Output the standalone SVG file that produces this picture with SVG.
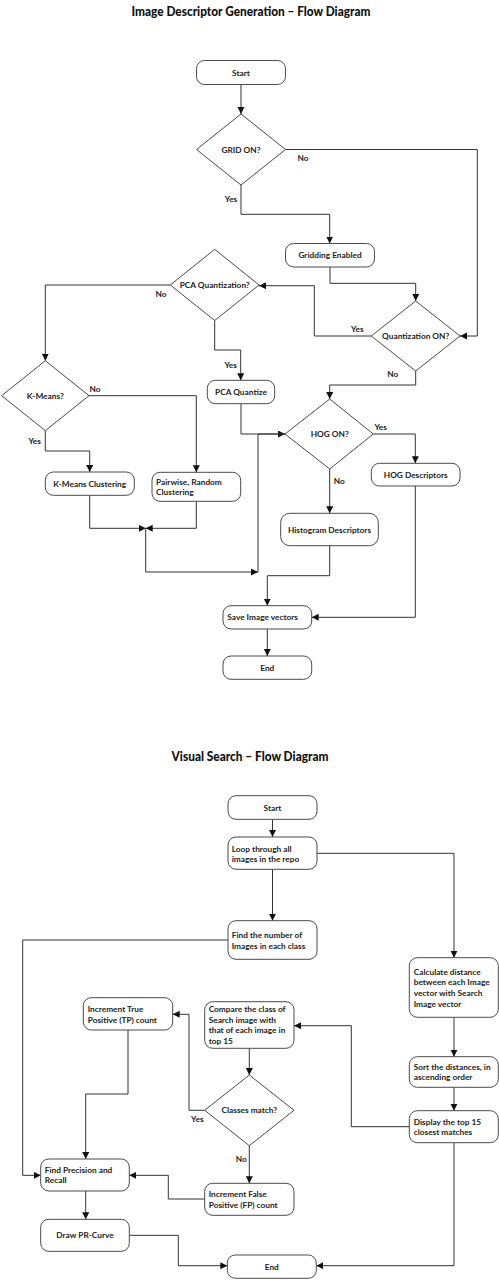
<svg xmlns="http://www.w3.org/2000/svg" width="499" height="1280" viewBox="0 0 499 1280">
<defs>
<marker id="ah" markerWidth="8" markerHeight="8" refX="7" refY="3.5" orient="auto" markerUnits="userSpaceOnUse"><path d="M0,0 L7,3.5 L0,7 z" fill="#111"/></marker>
<style>
.bx{fill:#fff;stroke:#4a4a4a;stroke-width:1}
.c{fill:none;stroke:#333;stroke-width:1;stroke-linejoin:round}
.a{marker-end:url(#ah)}
.t{font-family:Lato,"Liberation Sans",sans-serif;font-weight:bold;font-size:8.3px;fill:#222}
.m{text-anchor:middle}
.ti{font-family:Lato,"Liberation Sans",sans-serif;font-weight:900;font-size:12.5px;fill:#111;text-anchor:middle}
</style>
</defs>
<rect width="499" height="1280" fill="#fff"/>
<text class="ti" x="251" y="16" textLength="239" lengthAdjust="spacingAndGlyphs">Image Descriptor Generation – Flow Diagram</text>
<text class="ti" x="250" y="761" textLength="157" lengthAdjust="spacingAndGlyphs">Visual Search – Flow Diagram</text>

<g id="connectors">
<path class="c a" d="M241,84.5 V114"/>
<path class="c a" d="M285.5,149.5 H477.3 V336 H460"/>
<path class="c a" d="M241,185 V214.3 H329.7 V243.5"/>
<path class="c a" d="M330,267 V283.3 H415.7 V301"/>
<path class="c a" d="M371.3,336 H314.3 V285.7 H259"/>
<path class="c a" d="M170.3,285 H45.3 V360.7"/>
<path class="c a" d="M214.7,320.5 V350 H240.7 V380.3"/>
<path class="c a" d="M89,395.7 H196.3 V472.3"/>
<path class="c a" d="M45.3,430.7 V451 H89.7 V472"/>
<path class="c a" d="M415.7,371 V385 H329.7 V399"/>
<path class="c a" d="M241,403.7 V434 H285"/>
<path class="c a" d="M373.3,434 H415.3 V463.3"/>
<path class="c a" d="M329.7,469 V513.3"/>
<path class="c a" d="M89.7,495.3 V528.3 H145.7"/>
<path class="c a" d="M196.3,501.3 V528.3 H145.7"/>
<path class="c a" d="M145.7,528.3 V572 H258"/>
<path class="c" d="M258,572 V434 H285"/>
<path class="c a" d="M329.7,545.7 V575.7 H267.3 V605.7"/>
<path class="c a" d="M415.3,486 V617.3 H311.7"/>
<path class="c a" d="M267.3,629 V656"/>

<path class="c a" d="M272.5,819.3 V837"/>
<path class="c a" d="M317,853.3 H454 V957.7"/>
<path class="c a" d="M272.5,869.3 V920.7"/>
<path class="c a" d="M228,940 H22.7 V1175.3 H40.7"/>
<path class="c a" d="M454,1017.3 V1056.7"/>
<path class="c a" d="M454,1087.3 V1110.7"/>
<path class="c a" d="M409.3,1126.7 H351.3 V1025.7 H294"/>
<path class="c a" d="M454,1142.7 V1265.7 H316.3"/>
<path class="c a" d="M249.3,1048.3 V1075"/>
<path class="c a" d="M204.7,1110.3 H189 V1014.3 H172.7"/>
<path class="c a" d="M128,1030 V1094 H85.7 V1159"/>
<path class="c a" d="M249.3,1145.7 V1183.3"/>
<path class="c a" d="M204.7,1199 H168.3 V1175.3 H129.3"/>
<path class="c a" d="M85.7,1191 V1219.3"/>
<path class="c a" d="M129.3,1235.3 H178.3 V1265.7 H227.3"/>
</g>

<g id="labels">
<text class="t m" x="303" y="161">No</text>
<text class="t m" x="231" y="202">Yes</text>
<text class="t m" x="357.3" y="332">Yes</text>
<text class="t m" x="161" y="297">No</text>
<text class="t m" x="230.7" y="367.5">Yes</text>
<text class="t m" x="95" y="392">No</text>
<text class="t m" x="392.7" y="377">No</text>
<text class="t m" x="380.7" y="430">Yes</text>
<text class="t m" x="339.3" y="484">No</text>
<text class="t m" x="34.7" y="443.5">Yes</text>
<text class="t m" x="197.3" y="1122">Yes</text>
<text class="t m" x="241.3" y="1162.3">No</text>
</g>

<g id="start1"><rect class="bx" x="196.5" y="60.5" width="89" height="24" rx="8"/><text class="t m" x="241" y="75.5">Start</text></g>
<g id="grid_on"><polygon class="bx" points="241,114 285.5,149.5 241,185 196.5,149.5"/><text class="t m" x="241" y="152.5">GRID ON?</text></g>
<g id="gridding"><rect class="bx" x="285.5" y="243.5" width="89" height="23.5" rx="8"/><text class="t m" x="330" y="258">Gridding Enabled</text></g>
<g id="quant_on"><polygon class="bx" points="415.7,301 460,336 415.7,371 371.3,336"/><text class="t m" x="415.7" y="339">Quantization ON?</text></g>
<g id="pca_q"><polygon class="bx" points="214.7,249.3 259,285 214.7,320.5 170.3,285"/><text class="t m" x="214.7" y="288">PCA Quantization?</text></g>
<g id="kmeans_q"><polygon class="bx" points="45.3,360.7 89,395.7 45.3,430.7 1.7,395.7"/><text class="t m" x="45.3" y="398.5">K-Means?</text></g>
<g id="pca_quantize"><rect class="bx" x="207.3" y="380.3" width="67.4" height="23.4" rx="8"/><text class="t m" x="241" y="395">PCA Quantize</text></g>
<g id="hog_on"><polygon class="bx" points="329.7,399 373.3,434 329.7,469 285,434"/><text class="t m" x="329.7" y="436.5">HOG ON?</text></g>
<g id="hog_desc"><rect class="bx" x="371.3" y="463.3" width="88.7" height="22.7" rx="8"/><text class="t m" x="415.7" y="478">HOG Descriptors</text></g>
<g id="hist_desc"><rect class="bx" x="280.7" y="513.3" width="97.6" height="32.4" rx="9"/><text class="t m" x="329.5" y="532.5">Histogram Descriptors</text></g>
<g id="kmeans_cl"><rect class="bx" x="45.3" y="472" width="89" height="23.3" rx="8"/><text class="t m" x="89.7" y="486.5">K-Means Clustering</text></g>
<g id="pairwise"><rect class="bx" x="152" y="472.3" width="88.7" height="29" rx="8"/><text class="t" x="156" y="484.5">Pairwise, Random</text><text class="t" x="156" y="494.5">Clustering</text></g>
<g id="save"><rect class="bx" x="223" y="605.7" width="88.7" height="23.3" rx="8"/><text class="t" x="227.3" y="620">Save Image vectors</text></g>
<g id="end1"><rect class="bx" x="223" y="656" width="88.7" height="23.3" rx="8"/><text class="t m" x="267.3" y="670.5">End</text></g>

<g id="start2"><rect class="bx" x="228" y="795.7" width="89" height="23.6" rx="8"/><text class="t m" x="272.5" y="811">Start</text></g>
<g id="loop"><rect class="bx" x="228" y="837" width="89" height="32.3" rx="8"/><text class="t" x="231.7" y="851.5">Loop through all</text><text class="t" x="231.7" y="861.5">images in the repo</text></g>
<g id="find_num"><rect class="bx" x="228" y="920.7" width="89" height="38.6" rx="8"/><text class="t" x="231.7" y="938">Find the number of</text><text class="t" x="231.7" y="948.7">Images in each class</text></g>
<g id="calc"><rect class="bx" x="409.3" y="957.7" width="89" height="59.6" rx="8"/><text class="t" x="413.7" y="974.7">Calculate distance</text><text class="t" x="413.7" y="985.3">between each Image</text><text class="t" x="413.7" y="996">vector with Search</text><text class="t" x="413.7" y="1006.7">Image vector</text></g>
<g id="sort"><rect class="bx" x="409.3" y="1056.7" width="89" height="30.6" rx="8"/><text class="t" x="413.7" y="1069.7">Sort the distances, in</text><text class="t" x="413.7" y="1079.7">ascending order</text></g>
<g id="display"><rect class="bx" x="409.3" y="1110.7" width="89" height="32" rx="8"/><text class="t" x="413.7" y="1124.7">Display the top 15</text><text class="t" x="413.7" y="1135.3">closest matches</text></g>
<g id="compare"><rect class="bx" x="204.7" y="1001.7" width="89.3" height="46.6" rx="8"/><text class="t" x="208.7" y="1012">Compare the class of</text><text class="t" x="208.7" y="1022.7">Search image with</text><text class="t" x="208.7" y="1033.3">that of each image in</text><text class="t" x="208.7" y="1044">top 15</text></g>
<g id="classes"><polygon class="bx" points="249.3,1075 294,1110.3 249.3,1145.7 204.7,1110.3"/><text class="t m" x="249.3" y="1113">Classes match?</text></g>
<g id="inc_tp"><rect class="bx" x="83.3" y="997.7" width="89.4" height="32.3" rx="8"/><text class="t" x="87.7" y="1012">Increment True</text><text class="t" x="87.7" y="1022.7">Positive (TP) count</text></g>
<g id="prec"><rect class="bx" x="40.7" y="1159" width="88.6" height="32" rx="8"/><text class="t" x="44.7" y="1173">Find Precision and</text><text class="t" x="44.7" y="1183.3">Recall</text></g>
<g id="inc_fp"><rect class="bx" x="204.7" y="1183.3" width="89.3" height="32" rx="8"/><text class="t" x="208.7" y="1197.3">Increment False</text><text class="t" x="208.7" y="1207.7">Positive (FP) count</text></g>
<g id="draw_pr"><rect class="bx" x="40.7" y="1219.3" width="88.6" height="32" rx="8"/><text class="t m" x="85" y="1238.3">Draw PR-Curve</text></g>
<g id="end2"><rect class="bx" x="227.3" y="1255" width="89" height="23.3" rx="8"/><text class="t m" x="271.8" y="1269.5">End</text></g>
</svg>
